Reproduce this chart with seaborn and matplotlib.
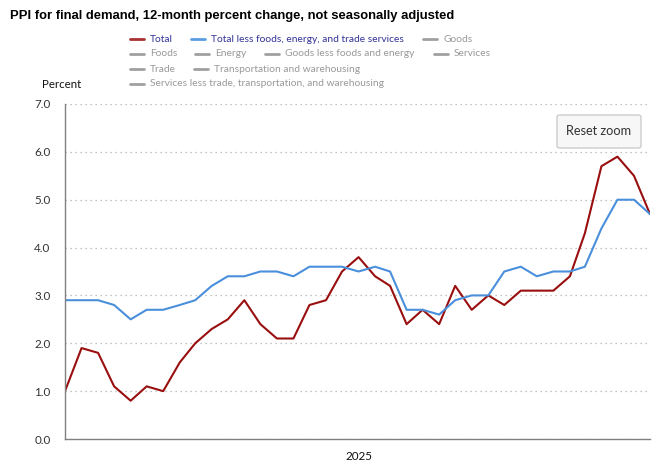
import numpy as np
import pandas as pd
import matplotlib
matplotlib.use("Agg")
import matplotlib.pyplot as plt
from matplotlib.lines import Line2D
from matplotlib.patches import FancyBboxPatch
import seaborn as sns

# ---- data ----
start_month = "2023-07-01"
n_months = 37
total = [1.0, 1.9, 1.8, 1.1, 0.8, 1.1, 1.0, 1.6, 2.0, 2.3, 2.5, 2.9, 2.4, 2.1, 2.1,
         2.8, 2.9, 3.5, 3.8, 3.4, 3.2, 2.4, 2.7, 2.4, 3.2, 2.7, 3.0, 2.8, 3.1, 3.1,
         3.1, 3.4, 4.3, 5.7, 5.9, 5.5, 4.7]
core = [2.9, 2.9, 2.9, 2.8, 2.5, 2.7, 2.7, 2.8, 2.9, 3.2, 3.4, 3.4, 3.5, 3.5, 3.4,
        3.6, 3.6, 3.6, 3.5, 3.6, 3.5, 2.7, 2.7, 2.6, 2.9, 3.0, 3.0, 3.5, 3.6, 3.4,
        3.5, 3.5, 3.6, 4.4, 5.0, 5.0, 4.7]
series_names = ["Total", "Total less foods, energy, and trade services"]
series_colors = ["#990f0f", "#4a8fdc"]
y_ticks = [0.0, 1.0, 2.0, 3.0, 4.0, 5.0, 6.0, 7.0]
x_tick_dates = ["2025-01-01"]
title = "PPI for final demand, 12-month percent change, not seasonally adjusted"
legend_rows = [
    ["Total", "Total less foods, energy, and trade services", "Goods"],
    ["Foods", "Energy", "Goods less foods and energy", "Services"],
    ["Trade", "Transportation and warehousing"],
    ["Services less trade, transportation, and warehousing"],
]

dates = pd.date_range(start_month, periods=n_months, freq="MS")
df = pd.DataFrame({
    "date": np.concatenate([dates, dates]),
    "value": total + core,
    "series": [series_names[0]] * n_months + [series_names[1]] * n_months,
})

sns.set_style("white")
plt.rcParams["font.family"] = ["Lato", "DejaVu Sans"]

W, H = 662, 476
fig = plt.figure(figsize=(W / 100, H / 100), dpi=100)
ax = fig.add_axes([65 / W, (H - 439) / H, (650 - 65) / W, (439 - 104) / H])

sns.lineplot(data=df, x="date", y="value", hue="series",
             palette=dict(zip(series_names, series_colors)),
             linewidth=1.5, ax=ax, legend=False)

ax.set_xlim(dates[0], dates[-1])
ax.set_ylim(0, 7)
ax.set_yticks(y_ticks)
ax.set_yticklabels([f"{v:.1f}" for v in y_ticks])
xt = pd.to_datetime(x_tick_dates)
ax.set_xticks(xt)
ax.set_xticklabels([d.strftime("%Y") for d in xt])
ax.set_xlabel("")
ax.set_ylabel("")
ax.yaxis.grid(True, color="#b0b0b0", linestyle=(0, (1, 3)), linewidth=0.9)
ax.xaxis.grid(False)
for s in ["top", "right"]:
    ax.spines[s].set_visible(False)
ax.spines["left"].set_color("#808080")
ax.spines["bottom"].set_color("#808080")
ax.spines["left"].set_linewidth(1.0)
ax.spines["bottom"].set_linewidth(1.0)
ax.tick_params(axis="y", length=6, color="#ccd6eb", pad=4.5, labelsize=8.4, labelcolor="#333333")
ax.tick_params(axis="x", length=0, pad=9, labelsize=8.4, labelcolor="#111111")
ax.set_zorder(1)

fig.text(10 / W, 1 - 16 / H, title, fontsize=9.4, fontweight="bold",
         family=["Liberation Sans", "DejaVu Sans"], va="center", ha="left", color="#000000")
fig.text(42 / W, 1 - 85 / H, "Percent", fontsize=8.3, va="center", ha="left", color="#111111")

# legend
row_y = [39, 54, 69, 84]
row_x = [[130, 191, 423], [130, 195, 265, 434], [130, 194], [130]]
for r, items in enumerate(legend_rows):
    for c, name in enumerate(items):
        x0 = row_x[r][c]
        y = 1 - row_y[r] / H
        if name in series_names:
            lc = ["#a83232", "#5a9de0"][series_names.index(name)]
            tc = "#333399"
        else:
            lc = "#a0a0a0"
            tc = "#999999"
        fig.add_artist(Line2D([x0 / W, (x0 + 14) / W], [y, y], color=lc, linewidth=2,
                              transform=fig.transFigure))
        fig.text((x0 + 20) / W, y, name, fontsize=7.4, va="center", ha="left", color=tc)

# reset zoom button
btn = FancyBboxPatch((557 / W, 1 - 148 / H), 84 / W, 33 / H,
                     boxstyle="round,pad=0,rounding_size=0.004",
                     transform=fig.transFigure, facecolor="#f7f7f7",
                     edgecolor="#cccccc", linewidth=1, zorder=5)
fig.add_artist(btn)
fig.text(599 / W, 1 - 131 / H, "Reset zoom", fontsize=9.2, ha="center", va="center",
         color="#333333", zorder=6)

fig.savefig("out.png", dpi=100)
